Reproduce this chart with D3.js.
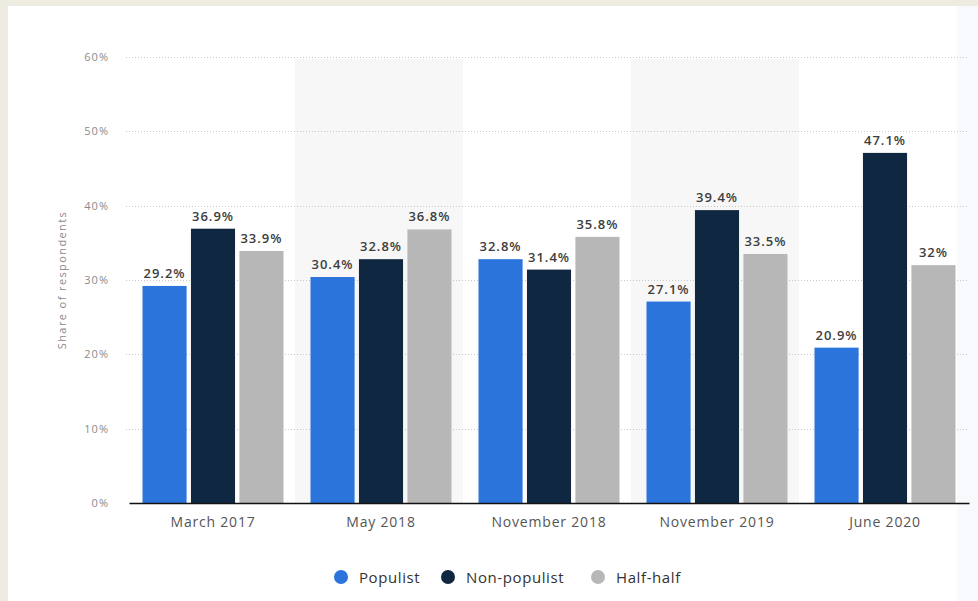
<!DOCTYPE html>
<html>
<head>
<meta charset="utf-8">
<script src="https://cdn.jsdelivr.net/npm/d3@7"></script>
<style>
  body { margin: 0; background: #eeebe0; }
  #chart { position: absolute; left: 0; top: 0; }
</style>
</head>
<body>
<div id="chart"></div>
<script>
// data
const categories = ["March 2017", "May 2018", "November 2018", "November 2019", "June 2020"];
const seriesNames = ["Populist", "Non-populist", "Half-half"];
const populist = [29.2, 30.4, 32.8, 27.1, 20.9];
const nonPopulist = [36.9, 32.8, 31.4, 39.4, 47.1];
const halfHalf = [33.9, 36.8, 35.8, 33.5, 32];
const valueLabels = [
  ["29.2%", "30.4%", "32.8%", "27.1%", "20.9%"],
  ["36.9%", "32.8%", "31.4%", "39.4%", "47.1%"],
  ["33.9%", "36.8%", "35.8%", "33.5%", "32%"]
];
const yTicks = [0, 10, 20, 30, 40, 50, 60];
const colors = ["#2a74db", "#0f2740", "#b7b7b7"];

const series = [populist, nonPopulist, halfHalf];

const W = 978, H = 601;
const margin = {top: 57, right: 9, bottom: 98, left: 129};
const width = W - margin.left - margin.right,
      height = H - margin.top - margin.bottom;

const root = d3.select("#chart").append("svg")
  .attr("width", W)
  .attr("height", H)
  .style("font-family", "'Open Sans', sans-serif");

// white panel
root.append("rect")
  .attr("x", 8).attr("y", 6)
  .attr("width", W - 8).attr("height", H - 6)
  .attr("fill", "#ffffff");
root.append("rect")
  .attr("x", 957).attr("y", 6)
  .attr("width", 21).attr("height", H - 6)
  .attr("fill", "#f8f9fc");

const svg = root.append("g")
  .attr("transform", "translate(" + margin.left + "," + margin.top + ")");

const x = d3.scaleBand()
  .domain(categories)
  .range([0, width]);

const xInner = d3.scaleBand()
  .domain(seriesNames)
  .range([0, 141])
  .paddingInner(0.09);

const y = d3.scaleLinear()
  .domain([0, 60])
  .range([height, 0]);

// alternating bands
svg.selectAll(".band")
  .data(categories.filter((d, i) => i % 2 == 1))
  .enter().append("rect")
    .attr("x", d => x(d) - 2)
    .attr("y", 2)
    .attr("width", x.bandwidth())
    .attr("height", height - 2)
    .attr("fill", "#f7f7f7");

// grid
svg.selectAll(".grid")
  .data(yTicks.filter(d => d > 0))
  .enter().append("line")
    .attr("x1", -3).attr("x2", width)
    .attr("y1", d => Math.round(y(d)) + 0.5)
    .attr("y2", d => Math.round(y(d)) + 0.5)
    .attr("stroke", "#c8c8c8")
    .attr("stroke-dasharray", "1,2");

// y axis labels
const yAxis = svg.append("g")
  .call(d3.axisLeft(y).tickValues(yTicks).tickFormat(d => d + "%").tickSize(0).tickPadding(20));
yAxis.select(".domain").remove();
yAxis.selectAll("text")
  .attr("fill", "#8a8a8a")
  .style("font-size", "11px")
  .style("letter-spacing", "1px")
  .style("font-family", "'Open Sans', sans-serif");

// y axis title
svg.append("text")
  .attr("transform", "rotate(-90)")
  .attr("x", -(y(30)))
  .attr("y", -63)
  .attr("text-anchor", "middle")
  .attr("fill", "#8a8a8a")
  .style("font-size", "11px")
  .style("letter-spacing", "1.4px")
  .text("Share of respondents");

// bars
const groups = svg.selectAll(".grp")
  .data(categories)
  .enter().append("g")
    .attr("transform", d => "translate(" + (x(d) + (x.bandwidth() - 141) / 2) + ",0)");

seriesNames.forEach((name, s) => {
  groups.append("rect")
    .attr("x", xInner(name))
    .attr("y", (d, i) => y(series[s][i]))
    .attr("width", xInner.bandwidth())
    .attr("height", (d, i) => height - y(series[s][i]))
    .attr("fill", colors[s]);

  groups.append("text")
    .attr("x", xInner(name) + xInner.bandwidth() / 2)
    .attr("y", (d, i) => y(series[s][i]) - 8)
    .attr("text-anchor", "middle")
    .attr("fill", "#3d3d3d")
    .style("font-size", "13px")
    .style("font-weight", "600")
    .style("letter-spacing", "1px")
    .text((d, i) => valueLabels[s][i]);
});

// x axis
const xAxis = svg.append("g")
  .attr("transform", "translate(0," + height + ")")
  .call(d3.axisBottom(x).tickSize(0).tickPadding(14));
xAxis.select(".domain")
  .attr("stroke", "#111")
  .attr("stroke-width", 1.5);
xAxis.selectAll("text")
  .attr("fill", "#555")
  .style("font-size", "14px")
  .style("letter-spacing", "0.8px")
  .style("font-family", "'Open Sans', sans-serif");

// legend
const legendX = [341, 448, 598];
const legend = root.append("g");
seriesNames.forEach((name, s) => {
  legend.append("circle")
    .attr("cx", legendX[s])
    .attr("cy", 577)
    .attr("r", 7)
    .attr("fill", colors[s]);
  legend.append("text")
    .attr("x", legendX[s] + 18)
    .attr("y", 583)
    .attr("fill", "#333")
    .style("font-size", "15px")
    .style("letter-spacing", "0.6px")
    .text(name);
});
</script>
</body>
</html>
